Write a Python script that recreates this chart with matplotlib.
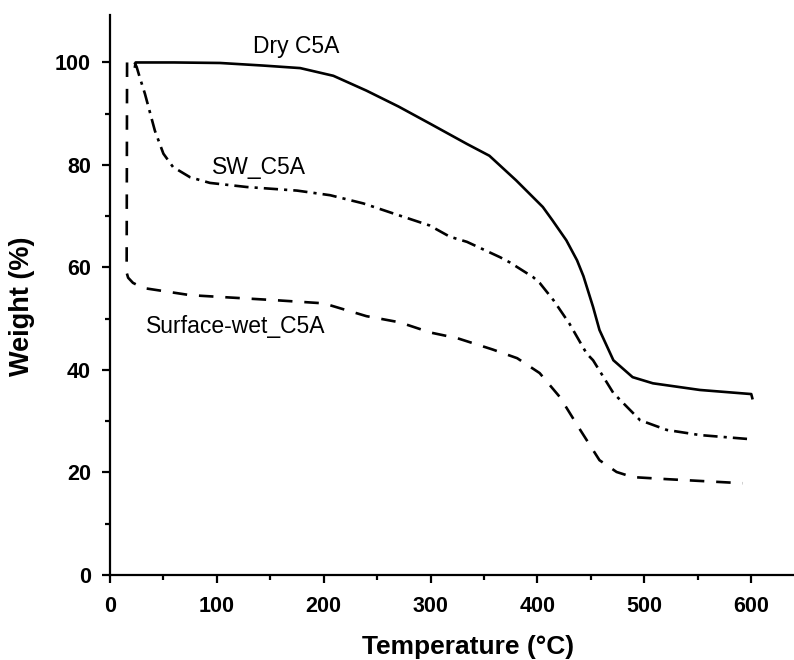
# TGA curves of the three C5A samples
import matplotlib.pyplot as plt
import numpy as np

plt.rcParams['font.family'] = ['Liberation Sans', 'DejaVu Sans']

# Dry C5A (solid)
dry_t = [23.4, 24, 60, 103, 143, 178, 209, 240, 270, 300, 334, 355, 380, 405,
         414, 427, 437, 443, 452, 458, 471, 489, 508, 552, 600, 601]
dry_w = [99.2, 100, 100, 99.9, 99.4, 98.9, 97.4, 94.5, 91.4, 88, 84.1, 81.8,
         77, 71.8, 69.2, 65.3, 61.4, 58.3, 52.3, 47.8, 41.9, 38.6, 37.4, 36.1,
         35.3, 34.5]

# SW_C5A (dash-dot)
sw_t = [23, 25, 28, 32.7, 42, 50, 59, 75, 93.5, 128, 175, 206, 237, 270, 299,
        318, 334, 365, 374, 396, 402, 415, 430, 446, 452, 471, 496, 521, 552,
        599]
sw_w = [100, 99.1, 97, 93.9, 86.7, 82.2, 79.6, 77.6, 76.5, 75.7, 75, 74.1,
        72.5, 70.2, 68.2, 66, 65, 62, 61, 58.1, 57, 53.6, 49, 43.2, 41.9, 35.5,
        30.2, 28.3, 27.3, 26.5]

# Surface-wet_C5A (dashed)
sf_t = [16, 15.6, 17, 21.5, 31, 75, 156, 178, 200, 240, 271, 300, 325, 358,
        381, 402, 421, 440, 458, 474, 489, 521, 592]
sf_w = [100, 59, 58, 57, 56, 54.6, 53.6, 53.3, 53, 50.5, 49.3, 47.3, 46.2,
        44, 42.3, 39.4, 34.7, 28.3, 22.4, 20.1, 19.1, 18.7, 17.9]

fig = plt.figure(figsize=(7.94, 6.6), dpi=100)
ax = fig.add_axes([0.1385, 0.1288, 0.8615, 0.848])

ax.plot(dry_t, dry_w, color='black', lw=1.9, ls='-')
ax.plot(sw_t, sw_w, color='black', lw=1.9, dashes=(5.4, 2.3, 1.2, 2.3))
ax.plot(sf_t, sf_w, color='black', lw=1.9, dashes=(5.5, 4.5))

ax.text(174, 101.9, 'Dry C5A', fontsize=16.5, ha='center', va='baseline')
ax.text(139.4, 78.3, 'SW_C5A', fontsize=16.5, ha='center', va='baseline')
ax.text(117.4, 47.2, 'Surface-wet_C5A', fontsize=16.5, ha='center',
        va='baseline')

ax.set_xlim(0, 640)
ax.set_ylim(0, 109.2)
ax.set_xticks(np.arange(0, 601, 100))
ax.set_xticks(np.arange(50, 640, 100), minor=True)
ax.set_yticks(np.arange(0, 101, 20))
ax.set_yticks(np.arange(10, 101, 20), minor=True)

for side in ['top', 'right']:
    ax.spines[side].set_visible(False)
for side in ['left', 'bottom']:
    ax.spines[side].set_linewidth(1.6)

ax.tick_params(which='major', direction='out', length=5.8, width=1.6,
               labelsize=15.5)
ax.tick_params(axis='x', which='major', pad=9)
ax.tick_params(axis='y', which='major', pad=8)
ax.tick_params(which='minor', direction='out', length=3.6, width=1.6)
for lab in ax.get_xticklabels() + ax.get_yticklabels():
    lab.set_fontweight('bold')

ax.set_xlabel('Temperature (°C)', fontsize=19, fontweight='bold')
ax.set_ylabel('Weight (%)', fontsize=19.5, fontweight='bold')
ax.xaxis.set_label_coords(0.523, -0.108)
ax.yaxis.set_label_coords(-0.11, 0.48)

plt.savefig('out.png', dpi=100)
